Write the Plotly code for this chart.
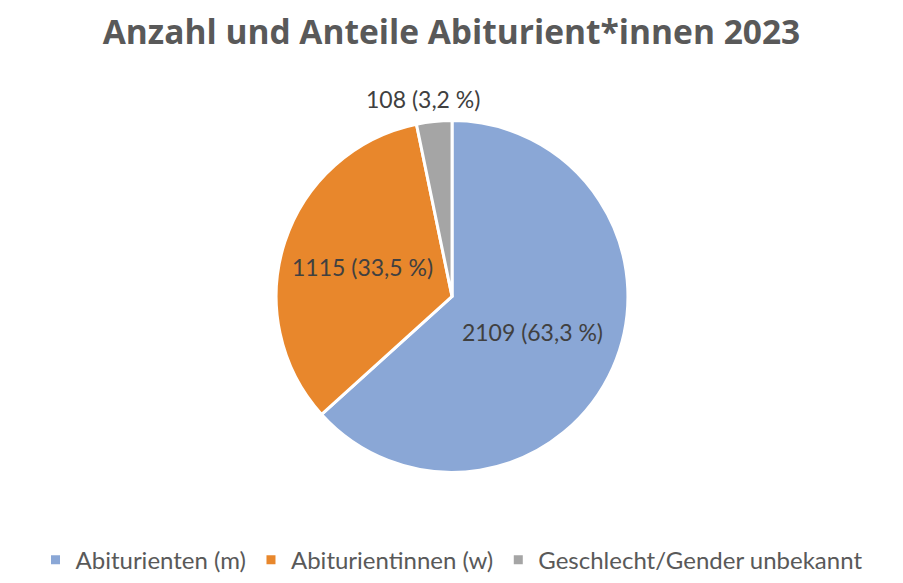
import math
import plotly.graph_objects as go

categories = ["Abiturienten (m)", "Abiturientinnen (w)", "Geschlecht/Gender unbekannt"]
values = [2109, 1115, 108]
colors = ["#8AA7D6", "#E8872C", "#A5A5A5"]
inside = [True, True, False]

W, H = 903, 583
total = sum(values)
texts = [f"{v} ({v / total * 100:.1f} %)".replace(".", ",") for v in values]

dom_x = [0.0012, 1.0]
dom_y = [0.1870, 0.7925]
cx = (dom_x[0] + dom_x[1]) / 2
cy = (dom_y[0] + dom_y[1]) / 2
R = (dom_y[1] - dom_y[0]) * H / 2

label_font = dict(family="Lato", size=23, color="#404040")

fig = go.Figure(go.Pie(
    labels=categories,
    values=values,
    text=texts,
    textinfo="text",
    textposition=["inside" if i else "none" for i in inside],
    insidetextorientation="horizontal",
    sort=False,
    direction="clockwise",
    rotation=0,
    marker=dict(colors=colors, line=dict(color="white", width=3)),
    textfont=label_font,
    domain=dict(x=dom_x, y=dom_y),
    hoverinfo="label+value+percent",
))

# outside labels for small slices, placed along the slice's mid angle
cum = 0
for v, t, ins in zip(values, texts, inside):
    mid = (cum + v / 2) / total * 2 * math.pi
    cum += v
    if ins:
        continue
    r = R * 1.13
    fig.add_annotation(
        x=cx + r * math.sin(mid) / W - 0.01, y=cy + r * math.cos(mid) / H,
        xref="paper", yref="paper", text=t, showarrow=False,
        xanchor="center", yanchor="middle", font=label_font,
    )

fig.update_layout(
    width=W, height=H,
    margin=dict(l=0, r=0, t=0, b=0),
    paper_bgcolor="white",
    title=dict(text="<b>Anzahl und Anteile Abiturient*innen 2023</b>",
               x=0.5, xanchor="center", y=0.945, yanchor="middle",
               font=dict(family="Open Sans", size=33.5, color="#595959")),
    legend=dict(orientation="h", x=0.5, xanchor="center", y=0.036, yanchor="middle",
                font=dict(family="Lato", size=24, color="#595959"),
                itemwidth=30, itemclick=False),
    showlegend=True,
)

fig.write_html("out.html")
